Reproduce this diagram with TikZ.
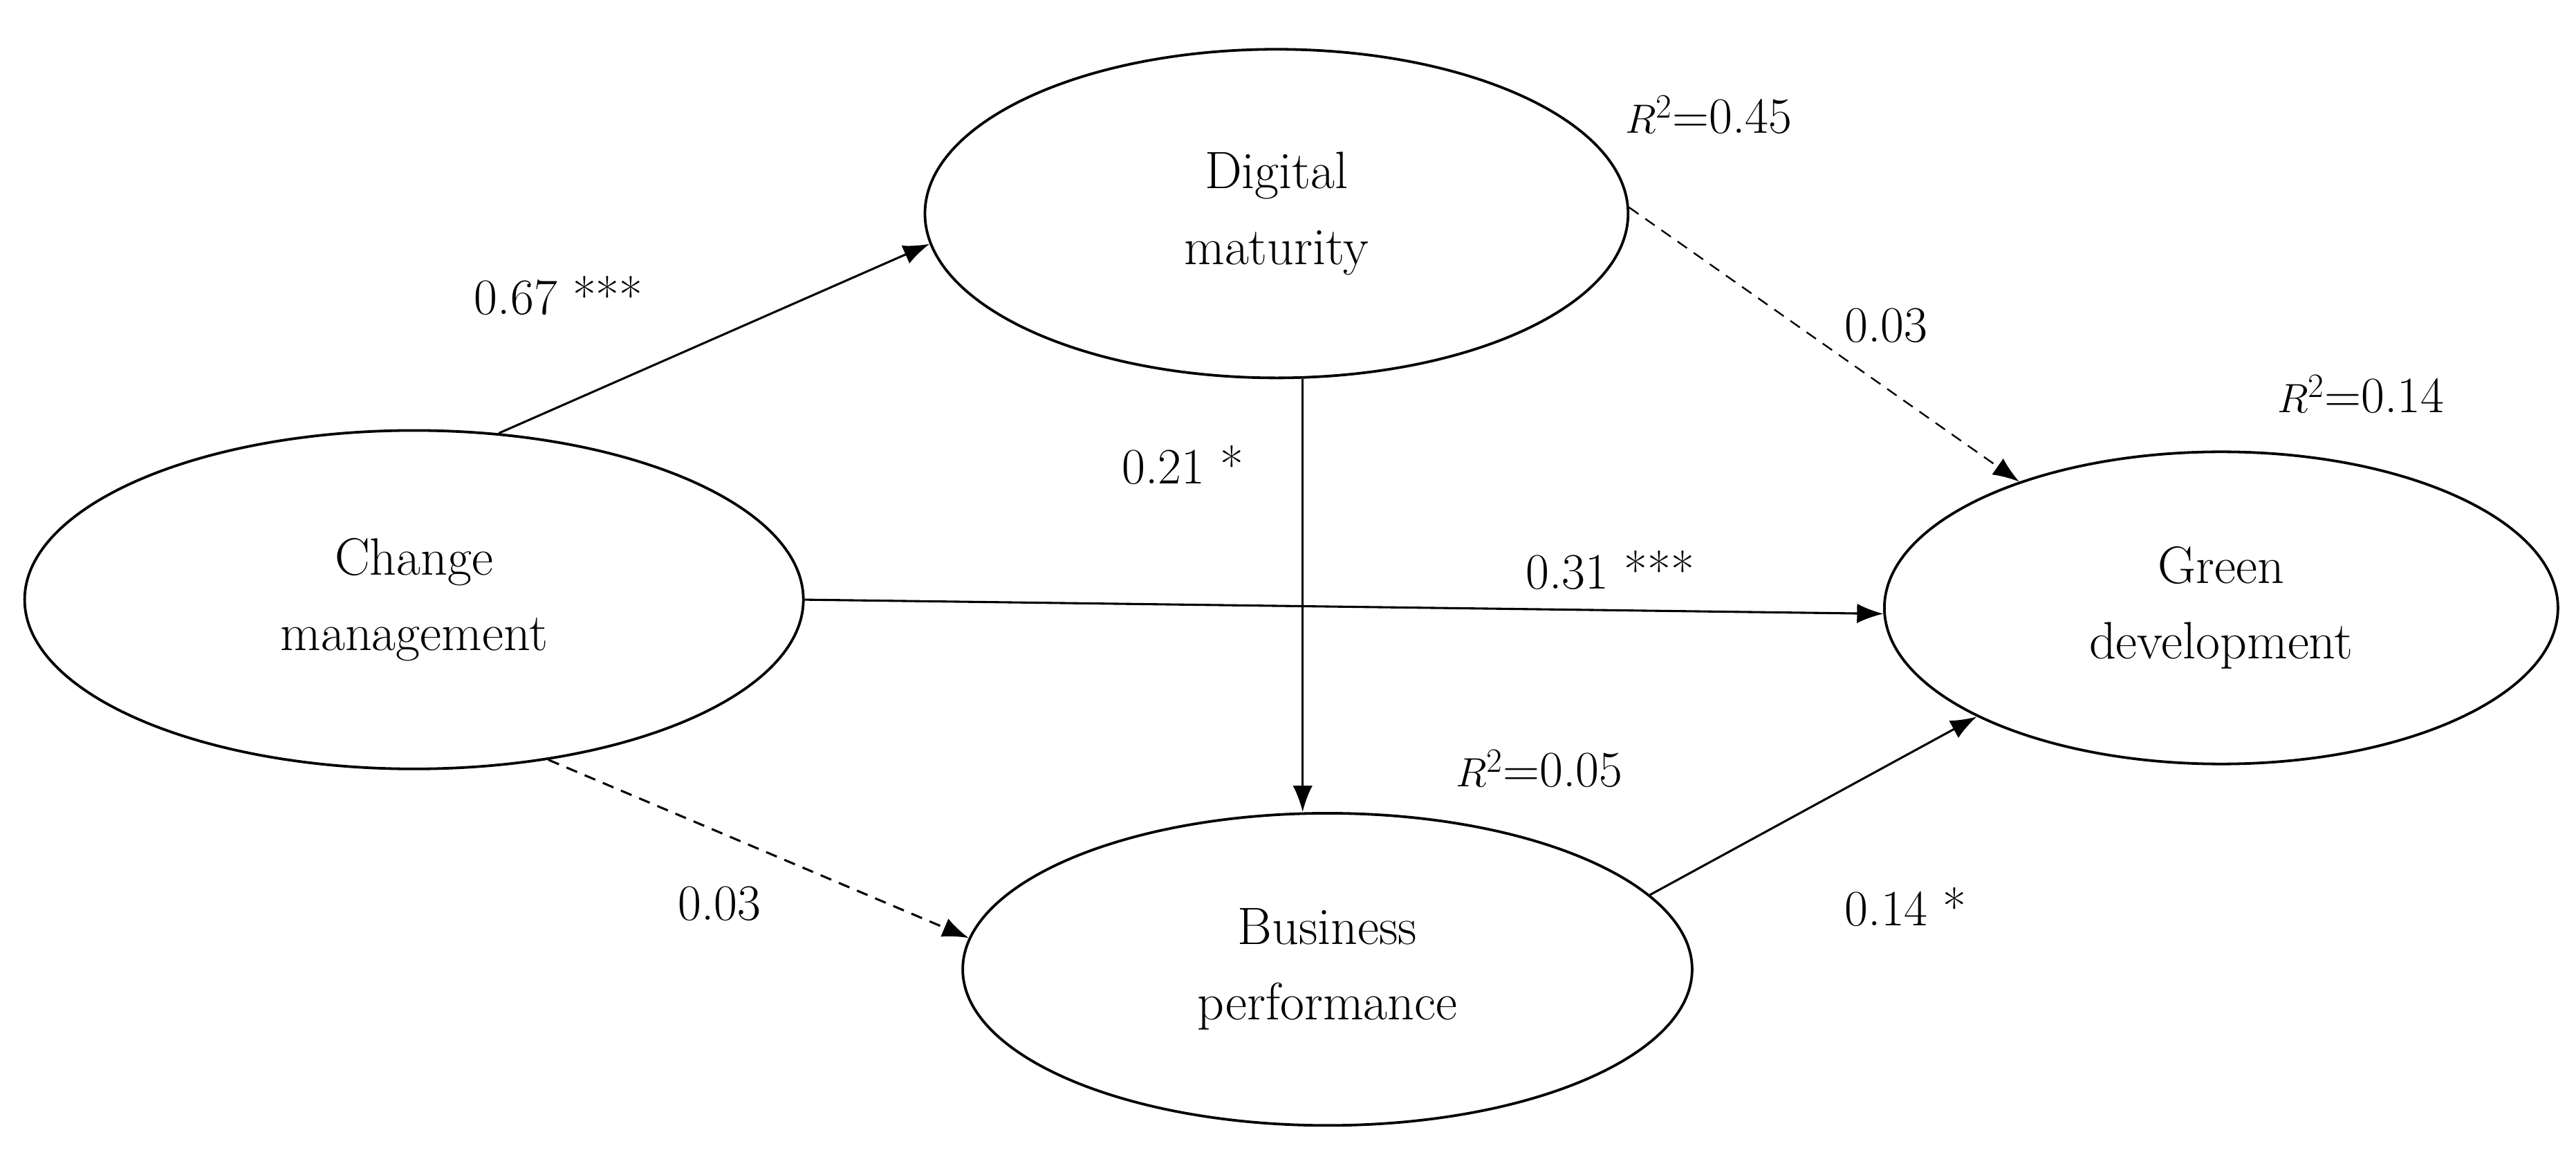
\documentclass[tikz,border=0pt]{standalone}
\usetikzlibrary{shapes.geometric,arrows.meta}
\begin{document}
\begin{tikzpicture}[x=1pt,y=-1pt,
  latent/.style={draw,ellipse,line width=1.6pt,inner sep=0pt,align=center,font=\fontsize{32}{46}\selectfont},
  path/.style={line width=1.3pt,-{Latex[length=16pt,width=12pt]}},
  dpath/.style={path,dashed,dash pattern=on 7pt off 5pt},
  lbl/.style={font=\fontsize{31}{36}\selectfont,inner sep=0pt}]
\useasboundingbox (0,0) rectangle (1568,704);
\node[latent,minimum width=474,minimum height=206] (cm) at (252,365) {Change\\management};
\node[latent,minimum width=428,minimum height=200] (dm) at (777,130) {Digital\\maturity};
\node[latent,minimum width=410,minimum height=190] (gd) at (1352,370) {Green\\development};
\node[latent,minimum width=444,minimum height=190] (bp) at (808,590) {Business\\performance};
\draw[path] (cm.63) -- (dm.185);
\draw[path] (cm.0) -- (gd.181);
\draw[dpath] (cm.-50) -- (bp.175);
\draw[path] (dm.-81) -- (dm.-81 |- bp.north);
\draw[dpath,line width=1pt] (dm.1) -- (gd.148);
\draw[path] (bp.13) -- (gd.204);
\node[lbl] (l1) at (340,180) {0.67 ***};
\node[lbl] (l2) at (980,347) {0.31 ***};
\node[lbl] (l3) at (438,550) {0.03};
\node[lbl] (l4) at (720,283) {0.21 *};
\node[lbl] (l5) at (1148,198) {0.03};
\node[lbl] (l6) at (1160,552) {0.14 *};
\node[lbl] (r1) at (1040,70) {$R^2$=0.45};
\node[lbl] (r2) at (1437,240) {$R^2$=0.14};
\node[lbl] (r3) at (937,468) {$R^2$=0.05};
\end{tikzpicture}
\end{document}
